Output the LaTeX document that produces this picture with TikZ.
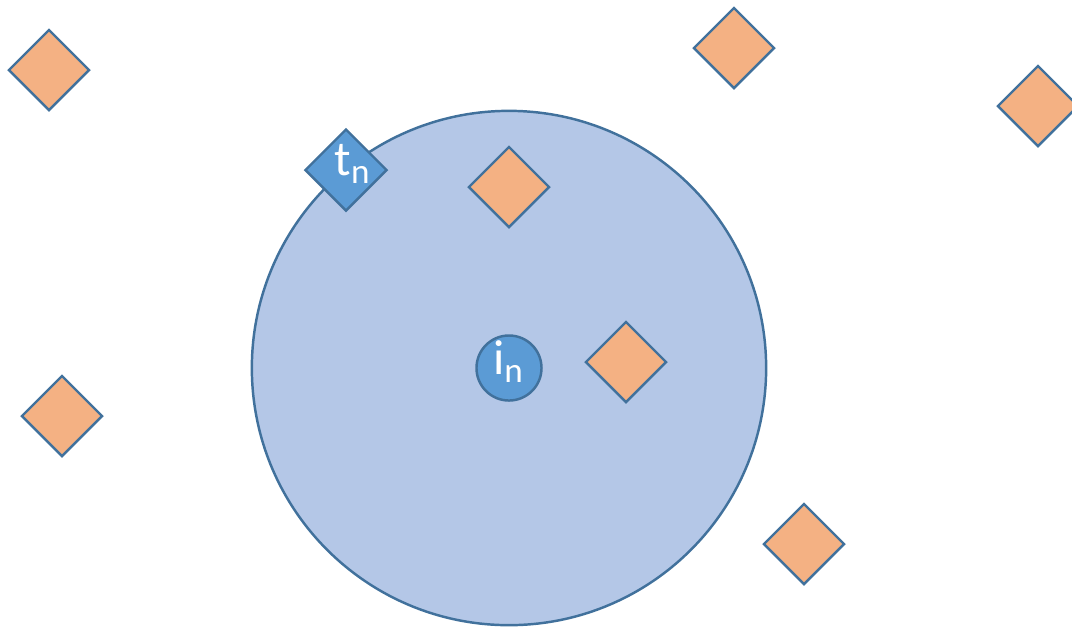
\documentclass[tikz,border=0pt]{standalone}
\usepackage{fontspec}
\setmainfont{Carlito}
\usetikzlibrary{shapes.geometric}
\definecolor{edge}{HTML}{41719C}
\definecolor{bigfill}{HTML}{B4C7E7}
\definecolor{orangefill}{HTML}{F4B183}
\definecolor{bluefill}{HTML}{5B9BD5}
\newcommand{\mysub}[1]{\raisebox{-2.3pt}{\fontsize{10}{10}\selectfont #1}}
\tikzset{
  orangebox/.style={diamond, aspect=1, draw=edge, fill=orangefill, line width=0.7pt, minimum width=0.81cm, minimum height=0.81cm, inner sep=0pt},
  bluebox/.style={diamond, aspect=1, draw=edge, fill=bluefill, line width=0.7pt, minimum width=0.82cm, minimum height=0.82cm, inner sep=0pt},
  bigcircle/.style={circle, draw=edge, fill=bigfill, line width=0.7pt, minimum size=5.14cm, inner sep=0pt},
  smallcircle/.style={circle, draw=edge, fill=bluefill, line width=0.7pt, minimum size=0.65cm, inner sep=0pt},
  whitelabel/.style={text=white, font=\fontsize{14}{14}\selectfont, inner sep=0pt}
}
\begin{document}
\begin{tikzpicture}[x=0.01cm, y=-0.01cm]
\useasboundingbox (0,0) rectangle (1072,626);
\node[bigcircle] (area) at (509,368) {};
\node[orangebox] (d1) at (49,70) {};
\node[orangebox] (d2) at (734,48) {};
\node[orangebox] (d3) at (1038,106) {};
\node[orangebox] (d4) at (509,187) {};
\node[orangebox] (d5) at (626,362) {};
\node[orangebox] (d6) at (62,416) {};
\node[orangebox] (d7) at (804,544) {};
\node[bluebox] (tn) at (346,170) {};
\node[whitelabel] (tnlabel) at (352,164) {t\mysub{n}};
\node[smallcircle] (in) at (509,368) {};
\node[whitelabel] (inlabel) at (508,362) {i\mysub{n}};
\end{tikzpicture}
\end{document}
